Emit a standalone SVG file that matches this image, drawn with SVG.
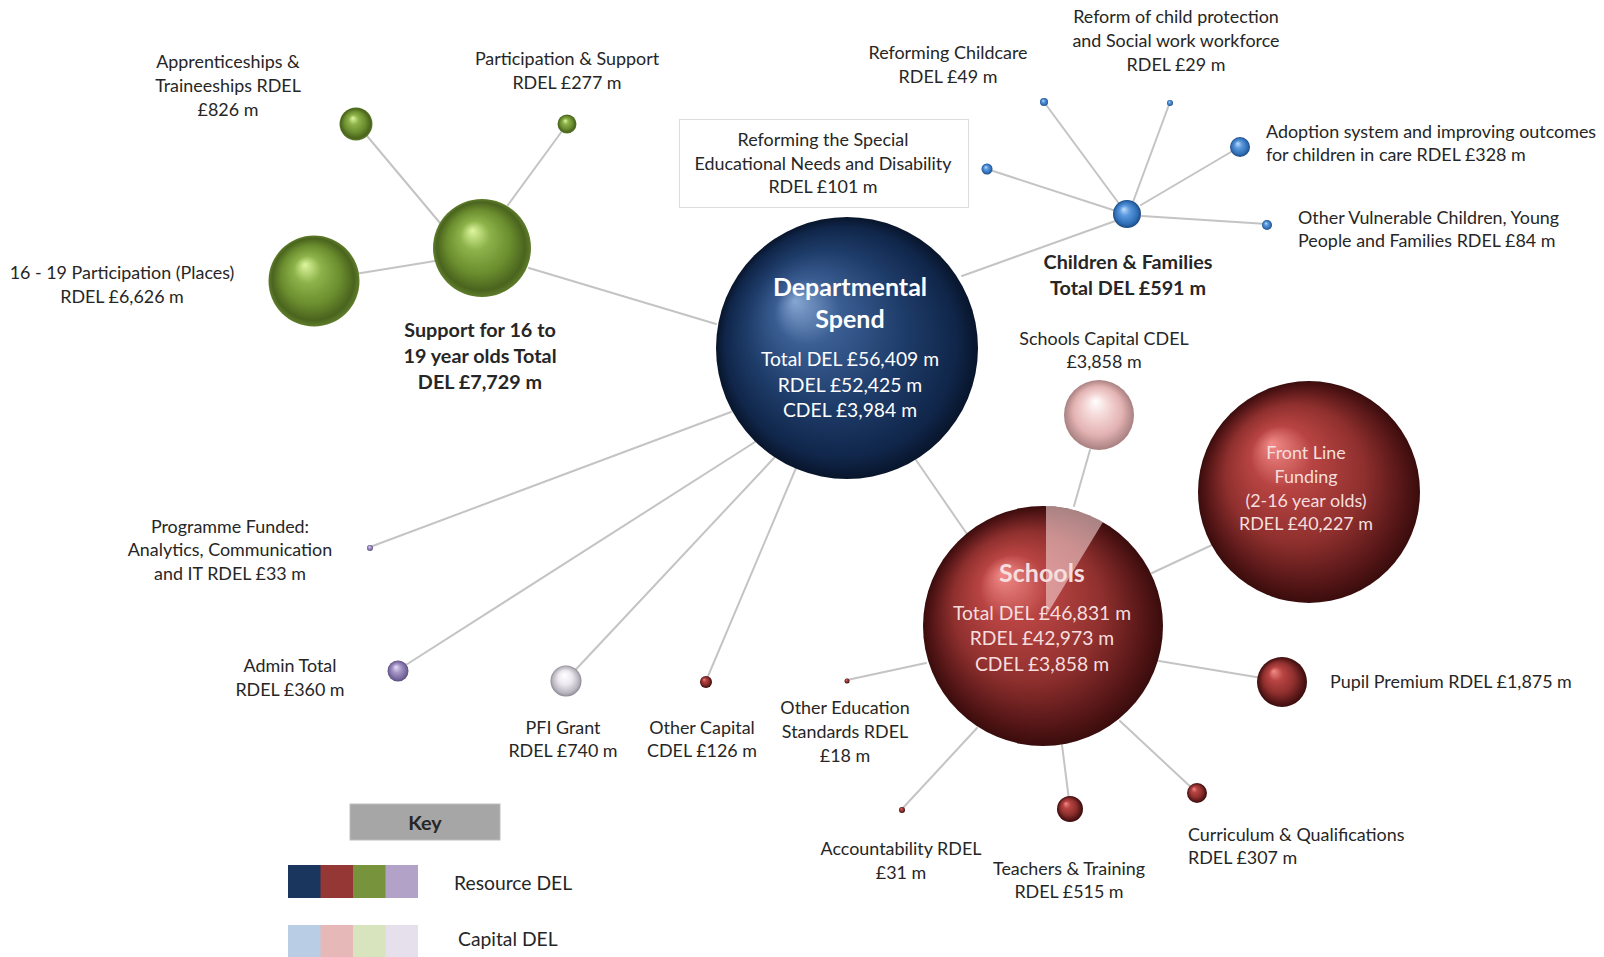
<svg xmlns="http://www.w3.org/2000/svg" width="1604" height="957" viewBox="0 0 1604 957">
<defs>
<style>
.lbl{font-family:Lato,"Liberation Sans",sans-serif;font-size:17.9px;fill:#262626;text-anchor:middle;dominant-baseline:central}
.lft{text-anchor:start}
.bold{font-weight:bold;font-size:19.8px}
.w{fill:#ffffff}
.pk{fill:#f6dede}
.big{font-size:19.3px}
.head{font-size:25px}
.con line{stroke:#c4c4c4;stroke-width:2;stroke-linecap:round}
</style>
<radialGradient id="gBlue" cx="0.5" cy="0.5" r="0.5" fx="0.3" fy="0.32">
<stop offset="0" stop-color="#86a6d2"/><stop offset="0.25" stop-color="#3a5d92"/><stop offset="0.6" stop-color="#1e3c69"/><stop offset="0.88" stop-color="#10264a"/><stop offset="1" stop-color="#08152b"/>
</radialGradient>
<radialGradient id="gRed" cx="0.5" cy="0.5" r="0.5" fx="0.33" fy="0.28">
<stop offset="0" stop-color="#f28c8a"/><stop offset="0.28" stop-color="#b84442"/><stop offset="0.62" stop-color="#8f302e"/><stop offset="0.88" stop-color="#561617"/><stop offset="1" stop-color="#3a0c0c"/>
</radialGradient>
<radialGradient id="gGreen" cx="0.5" cy="0.5" r="0.5" fx="0.4" fy="0.32">
<stop offset="0" stop-color="#def79e"/><stop offset="0.3" stop-color="#8db24a"/><stop offset="0.65" stop-color="#6b8d2e"/><stop offset="0.9" stop-color="#4a641e"/><stop offset="1" stop-color="#5e7d2a"/>
</radialGradient>
<radialGradient id="gSBlue" cx="0.5" cy="0.5" r="0.5" fx="0.38" fy="0.32">
<stop offset="0" stop-color="#c4defa"/><stop offset="0.35" stop-color="#5d9be0"/><stop offset="0.8" stop-color="#2f6db5"/><stop offset="1" stop-color="#1d4a82"/>
</radialGradient>
<radialGradient id="gPink" cx="0.5" cy="0.5" r="0.5" fx="0.45" fy="0.3">
<stop offset="0" stop-color="#ffffff"/><stop offset="0.3" stop-color="#f6dada"/><stop offset="0.7" stop-color="#e3b2b2"/><stop offset="1" stop-color="#a88080"/>
</radialGradient>
<radialGradient id="gWhite" cx="0.5" cy="0.5" r="0.5" fx="0.45" fy="0.3">
<stop offset="0" stop-color="#ffffff"/><stop offset="0.45" stop-color="#eceaf0"/><stop offset="0.85" stop-color="#b8b4be"/><stop offset="1" stop-color="#8e8a94"/>
</radialGradient>
<radialGradient id="gPurple" cx="0.5" cy="0.5" r="0.5" fx="0.4" fy="0.3">
<stop offset="0" stop-color="#e6dff5"/><stop offset="0.4" stop-color="#a898c9"/><stop offset="0.85" stop-color="#74659a"/><stop offset="1" stop-color="#5a4d7c"/>
</radialGradient>
</defs>
<rect width="1604" height="957" fill="#ffffff"/>

<g id="connectors" class="con">
<line x1="716" y1="324" x2="529" y2="268"/>
<line x1="440" y1="223" x2="362" y2="130"/>
<line x1="508" y1="205" x2="565" y2="127"/>
<line x1="435" y1="261" x2="355" y2="274"/>
<line x1="962" y1="276" x2="1118" y2="220"/>
<line x1="1120" y1="205" x2="1044" y2="102"/>
<line x1="1133" y1="202" x2="1170" y2="102"/>
<line x1="1113" y1="210" x2="987" y2="169"/>
<line x1="1141" y1="205" x2="1236" y2="149"/>
<line x1="1142" y1="216" x2="1267" y2="224"/>
<line x1="731" y1="412" x2="370" y2="547"/>
<line x1="755" y1="442" x2="398" y2="670"/>
<line x1="774" y1="458" x2="566" y2="680"/>
<line x1="796" y1="468" x2="706" y2="681"/>
<line x1="916" y1="460" x2="967" y2="534"/>
<line x1="1090" y1="450" x2="1074" y2="506"/>
<line x1="1152" y1="573" x2="1212" y2="545"/>
<line x1="1159" y1="661" x2="1262" y2="678"/>
<line x1="926" y1="663" x2="847" y2="680"/>
<line x1="977" y1="728" x2="902" y2="809"/>
<line x1="1062" y1="745" x2="1069" y2="800"/>
<line x1="1120" y1="721" x2="1195" y2="791"/>
</g>

<g id="dept">
<circle cx="847" cy="348" r="131" fill="url(#gBlue)"/>
<text class="lbl bold w head" x="850" y="286">Departmental</text>
<text class="lbl bold w head" x="850" y="318">Spend</text>
<text class="lbl w big" x="850" y="358">Total DEL £56,409 m</text>
<text class="lbl w big" x="850" y="384">RDEL £52,425 m</text>
<text class="lbl w big" x="850" y="409">CDEL £3,984 m</text>
</g>

<g id="support1619">
<circle cx="482" cy="248" r="49" fill="url(#gGreen)"/>
<text class="lbl bold" x="480" y="329">Support for 16 to</text>
<text class="lbl bold" x="480" y="355">19 year olds Total</text>
<text class="lbl bold" x="480" y="381">DEL £7,729 m</text>
</g>
<g id="apprenticeships">
<circle cx="356" cy="124" r="16.5" fill="url(#gGreen)"/>
<text class="lbl" x="228" y="61">Apprenticeships &amp;</text>
<text class="lbl" x="228" y="85">Traineeships RDEL</text>
<text class="lbl" x="228" y="109">£826 m</text>
</g>
<g id="participation">
<circle cx="567" cy="124" r="9.5" fill="url(#gGreen)"/>
<text class="lbl" x="567" y="58">Participation &amp; Support</text>
<text class="lbl" x="567" y="82">RDEL £277 m</text>
</g>
<g id="p1619">
<circle cx="314" cy="281" r="45.5" fill="url(#gGreen)"/>
<text class="lbl" x="122" y="272">16 - 19 Participation (Places)</text>
<text class="lbl" x="122" y="296">RDEL £6,626 m</text>
</g>

<g id="childfam">
<circle cx="1127" cy="214" r="14" fill="url(#gSBlue)"/>
<text class="lbl bold" x="1128" y="261">Children &amp; Families</text>
<text class="lbl bold" x="1128" y="287">Total DEL £591 m</text>
</g>
<g id="childcare">
<circle cx="1044" cy="102" r="4" fill="url(#gSBlue)"/>
<text class="lbl" x="948" y="52">Reforming Childcare</text>
<text class="lbl" x="948" y="76">RDEL £49 m</text>
</g>
<g id="childprotection">
<circle cx="1170" cy="103" r="3" fill="url(#gSBlue)"/>
<text class="lbl" x="1176" y="16">Reform of child protection</text>
<text class="lbl" x="1176" y="40">and Social work workforce</text>
<text class="lbl" x="1176" y="64">RDEL £29 m</text>
</g>
<g id="send">
<circle cx="987" cy="169" r="5.5" fill="url(#gSBlue)"/>
<rect x="679.5" y="119.5" width="289" height="88" fill="#ffffff" stroke="#dcdcdc" stroke-width="1"/>
<text class="lbl" x="823" y="139">Reforming the Special</text>
<text class="lbl" x="823" y="163">Educational Needs and Disability</text>
<text class="lbl" x="823" y="186">RDEL £101 m</text>
</g>
<g id="adoption">
<circle cx="1240" cy="147" r="10" fill="url(#gSBlue)"/>
<text class="lbl lft" x="1266" y="131">Adoption system and improving outcomes</text>
<text class="lbl lft" x="1266" y="154">for children in care RDEL £328 m</text>
</g>
<g id="vulnerable">
<circle cx="1267" cy="225" r="5" fill="url(#gSBlue)"/>
<text class="lbl lft" x="1298" y="217">Other Vulnerable Children, Young</text>
<text class="lbl lft" x="1298" y="240">People and Families RDEL £84 m</text>
</g>

<g id="programme">
<circle cx="370" cy="548" r="3" fill="url(#gPurple)"/>
<text class="lbl" x="230" y="526">Programme Funded:</text>
<text class="lbl" x="230" y="549">Analytics, Communication</text>
<text class="lbl" x="230" y="573">and IT RDEL £33 m</text>
</g>
<g id="admin">
<circle cx="398" cy="671" r="10.5" fill="url(#gPurple)"/>
<text class="lbl" x="290" y="665">Admin Total</text>
<text class="lbl" x="290" y="689">RDEL £360 m</text>
</g>
<g id="pfi">
<circle cx="566" cy="681" r="15.5" fill="url(#gWhite)"/>
<text class="lbl" x="563" y="727">PFI Grant</text>
<text class="lbl" x="563" y="750">RDEL £740 m</text>
</g>
<g id="othercapital">
<circle cx="706" cy="682" r="6" fill="url(#gRed)"/>
<text class="lbl" x="702" y="727">Other Capital</text>
<text class="lbl" x="702" y="750">CDEL £126 m</text>
</g>

<g id="schoolscapital">
<circle cx="1099" cy="415" r="35" fill="url(#gPink)"/>
<text class="lbl" x="1104" y="338">Schools Capital CDEL</text>
<text class="lbl" x="1104" y="361">£3,858 m</text>
</g>
<g id="frontline">
<circle cx="1309" cy="492" r="111" fill="url(#gRed)"/>
<text class="lbl pk" x="1306" y="452">Front Line</text>
<text class="lbl pk" x="1306" y="476">Funding</text>
<text class="lbl pk" x="1306" y="500">(2-16 year olds)</text>
<text class="lbl pk" x="1306" y="523">RDEL £40,227 m</text>
</g>
<g id="schools">
<circle cx="1043" cy="626" r="120" fill="url(#gRed)"/>
<path d="M1046 616 L1046 506 A120 120 0 0 1 1103 522 Z" fill="#f3d2d2" fill-opacity="0.6"/>
<text class="lbl bold pk head" x="1042" y="572">Schools</text>
<text class="lbl pk big" x="1042" y="612">Total DEL £46,831 m</text>
<text class="lbl pk big" x="1042" y="637">RDEL £42,973 m</text>
<text class="lbl pk big" x="1042" y="663">CDEL £3,858 m</text>
</g>
<g id="pupilpremium">
<circle cx="1282" cy="682" r="25" fill="url(#gRed)"/>
<text class="lbl lft" x="1330" y="681">Pupil Premium RDEL £1,875 m</text>
</g>
<g id="othereducation">
<circle cx="847" cy="681" r="2.5" fill="url(#gRed)"/>
<text class="lbl" x="845" y="707">Other Education</text>
<text class="lbl" x="845" y="731">Standards RDEL</text>
<text class="lbl" x="845" y="755">£18 m</text>
</g>
<g id="accountability">
<circle cx="902" cy="810" r="3" fill="url(#gRed)"/>
<text class="lbl" x="901" y="848">Accountability RDEL</text>
<text class="lbl" x="901" y="872">£31 m</text>
</g>
<g id="teachers">
<circle cx="1070" cy="809" r="13" fill="url(#gRed)"/>
<text class="lbl" x="1069" y="868">Teachers &amp; Training</text>
<text class="lbl" x="1069" y="891">RDEL £515 m</text>
</g>
<g id="curriculum">
<circle cx="1197" cy="793" r="10" fill="url(#gRed)"/>
<text class="lbl lft" x="1188" y="834">Curriculum &amp; Qualifications</text>
<text class="lbl lft" x="1188" y="857">RDEL £307 m</text>
</g>

<g id="key">
<rect x="350" y="804" width="150" height="36" fill="#a6a6a6" stroke="#bdbdbd" stroke-width="1"/>
<text class="lbl bold" x="425" y="822">Key</text>
<rect x="288" y="865" width="33" height="33" fill="#1a365e"/>
<rect x="320.5" y="865" width="33" height="33" fill="#953735"/>
<rect x="353" y="865" width="33" height="33" fill="#77933c"/>
<rect x="385.5" y="865" width="32.5" height="33" fill="#b3a2c7"/>
<rect x="288" y="925" width="33" height="32" fill="#b9cde5"/>
<rect x="320.5" y="925" width="33" height="32" fill="#e6b9b8"/>
<rect x="353" y="925" width="33" height="32" fill="#d7e4bd"/>
<rect x="385.5" y="925" width="32.5" height="32" fill="#e5e0ec"/>
<text class="lbl lft big" x="454" y="882">Resource DEL</text>
<text class="lbl lft big" x="458" y="938">Capital DEL</text>
</g>
</svg>
